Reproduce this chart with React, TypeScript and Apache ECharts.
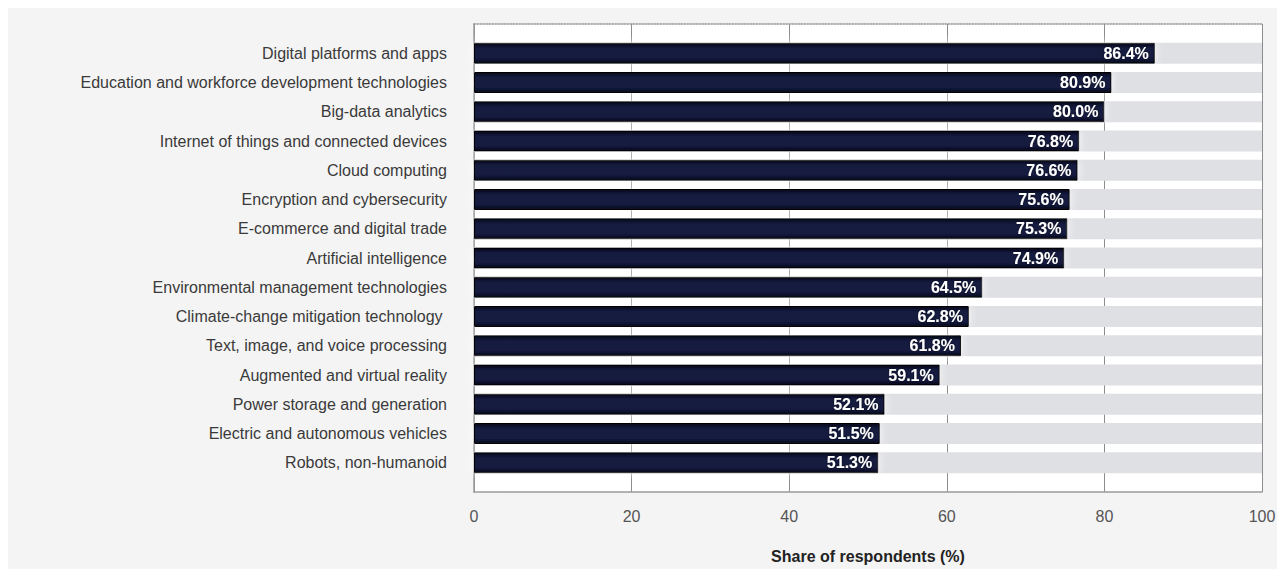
import React, { useEffect, useRef } from "react";
import * as echarts from "echarts";

// Technologies, top to bottom
const categories: string[] = [
  "Digital platforms and apps",
  "Education and workforce development technologies",
  "Big-data analytics",
  "Internet of things and connected devices",
  "Cloud computing",
  "Encryption and cybersecurity",
  "E-commerce and digital trade",
  "Artificial intelligence",
  "Environmental management technologies",
  "Climate-change mitigation technology ",
  "Text, image, and voice processing",
  "Augmented and virtual reality",
  "Power storage and generation",
  "Electric and autonomous vehicles",
  "Robots, non-humanoid",
];

// Share of respondents (%)
const shares: number[] = [86.4, 80.9, 80.0, 76.8, 76.6, 75.6, 75.3, 74.9, 64.5, 62.8, 61.8, 59.1, 52.1, 51.5, 51.3];

const axisMax = 100;
const axisTicks: number[] = [0, 20, 40, 60, 80, 100];

const FONT = "'Liberation Sans', Arial, Helvetica, sans-serif";

export default function App() {
  const ref = useRef<HTMLDivElement>(null);

  useEffect(() => {
    if (!ref.current) return;
    const chart = echarts.init(ref.current, null, { renderer: "svg" });

    // One empty slot above and below the bars
    const axisCats = ["", ...categories, ""];
    const barData = [null, ...shares, null].map((v) => (v === null ? "-" : v));
    const trackData = [null, ...shares, null].map((v) => (v === null ? "-" : axisMax));

    chart.setOption({
      animation: false,
      backgroundColor: "#f4f4f4",
      textStyle: { fontFamily: FONT },
      grid: {
        left: 466,
        right: 23,
        top: 16,
        bottom: 72,
        show: true,
        backgroundColor: "#ffffff",
        borderWidth: 0,
      },
      xAxis: [
        {
          type: "value",
          min: axisTicks[0],
          max: axisMax,
          interval: 20,
          position: "bottom",
          axisLine: { show: true, lineStyle: { color: "#9a9a9a", width: 1.5 } },
          axisTick: { show: false },
          splitLine: { show: true, lineStyle: { color: "#8c8c8c", width: 1 } },
          axisLabel: { color: "#555", fontSize: 16, margin: 16, fontFamily: FONT },
          name: "Share of respondents (%)",
          nameLocation: "middle",
          nameGap: 56,
          nameTextStyle: { color: "#222", fontSize: 16, fontWeight: "bold", fontFamily: FONT },
        },
        {
          type: "value",
          min: axisTicks[0],
          max: axisMax,
          position: "top",
          axisLine: { show: true, lineStyle: { color: "#9a9a9a", width: 1.5, type: "dotted" } },
          axisTick: { show: false },
          splitLine: { show: false },
          axisLabel: { show: false },
        },
      ],
      yAxis: {
        type: "category",
        data: axisCats,
        inverse: true,
        boundaryGap: false,
        axisLine: { show: true, lineStyle: { color: "#9a9a9a", width: 1.5 } },
        axisTick: { show: false },
        splitLine: { show: false },
        axisLabel: { color: "#3a3a3a", fontSize: 16, margin: 27, fontFamily: FONT, interval: 0 },
      },
      series: [
        {
          type: "bar",
          data: trackData,
          barWidth: 21,
          silent: true,
          itemStyle: { color: "#dfe0e4" },
          z: 1,
        },
        {
          type: "bar",
          data: barData,
          barWidth: 21,
          barGap: "-100%",
          z: 2,
          itemStyle: {
            color: new echarts.graphic.LinearGradient(0, 0, 0, 1, [
              { offset: 0, color: "#050818" },
              { offset: 0.25, color: "#141a40" },
              { offset: 0.75, color: "#141a40" },
              { offset: 1, color: "#050818" },
            ]),
            borderColor: "#000000",
            borderWidth: 1,
            shadowColor: "rgba(255,255,255,0.95)",
            shadowBlur: 8,
          },
          label: {
            show: true,
            position: "insideRight",
            distance: 6,
            color: "#ffffff",
            fontSize: 16,
            fontWeight: "bold",
            fontFamily: FONT,
            textShadowColor: "rgba(0,0,0,0.6)",
            textShadowBlur: 2,
            formatter: (p: any) => `${Number(p.value).toFixed(1)}%`,
          },
        },
      ],
    });

    return () => chart.dispose();
  }, []);

  return <div ref={ref} style={{ width: 1277, height: 561 }} />;
}
